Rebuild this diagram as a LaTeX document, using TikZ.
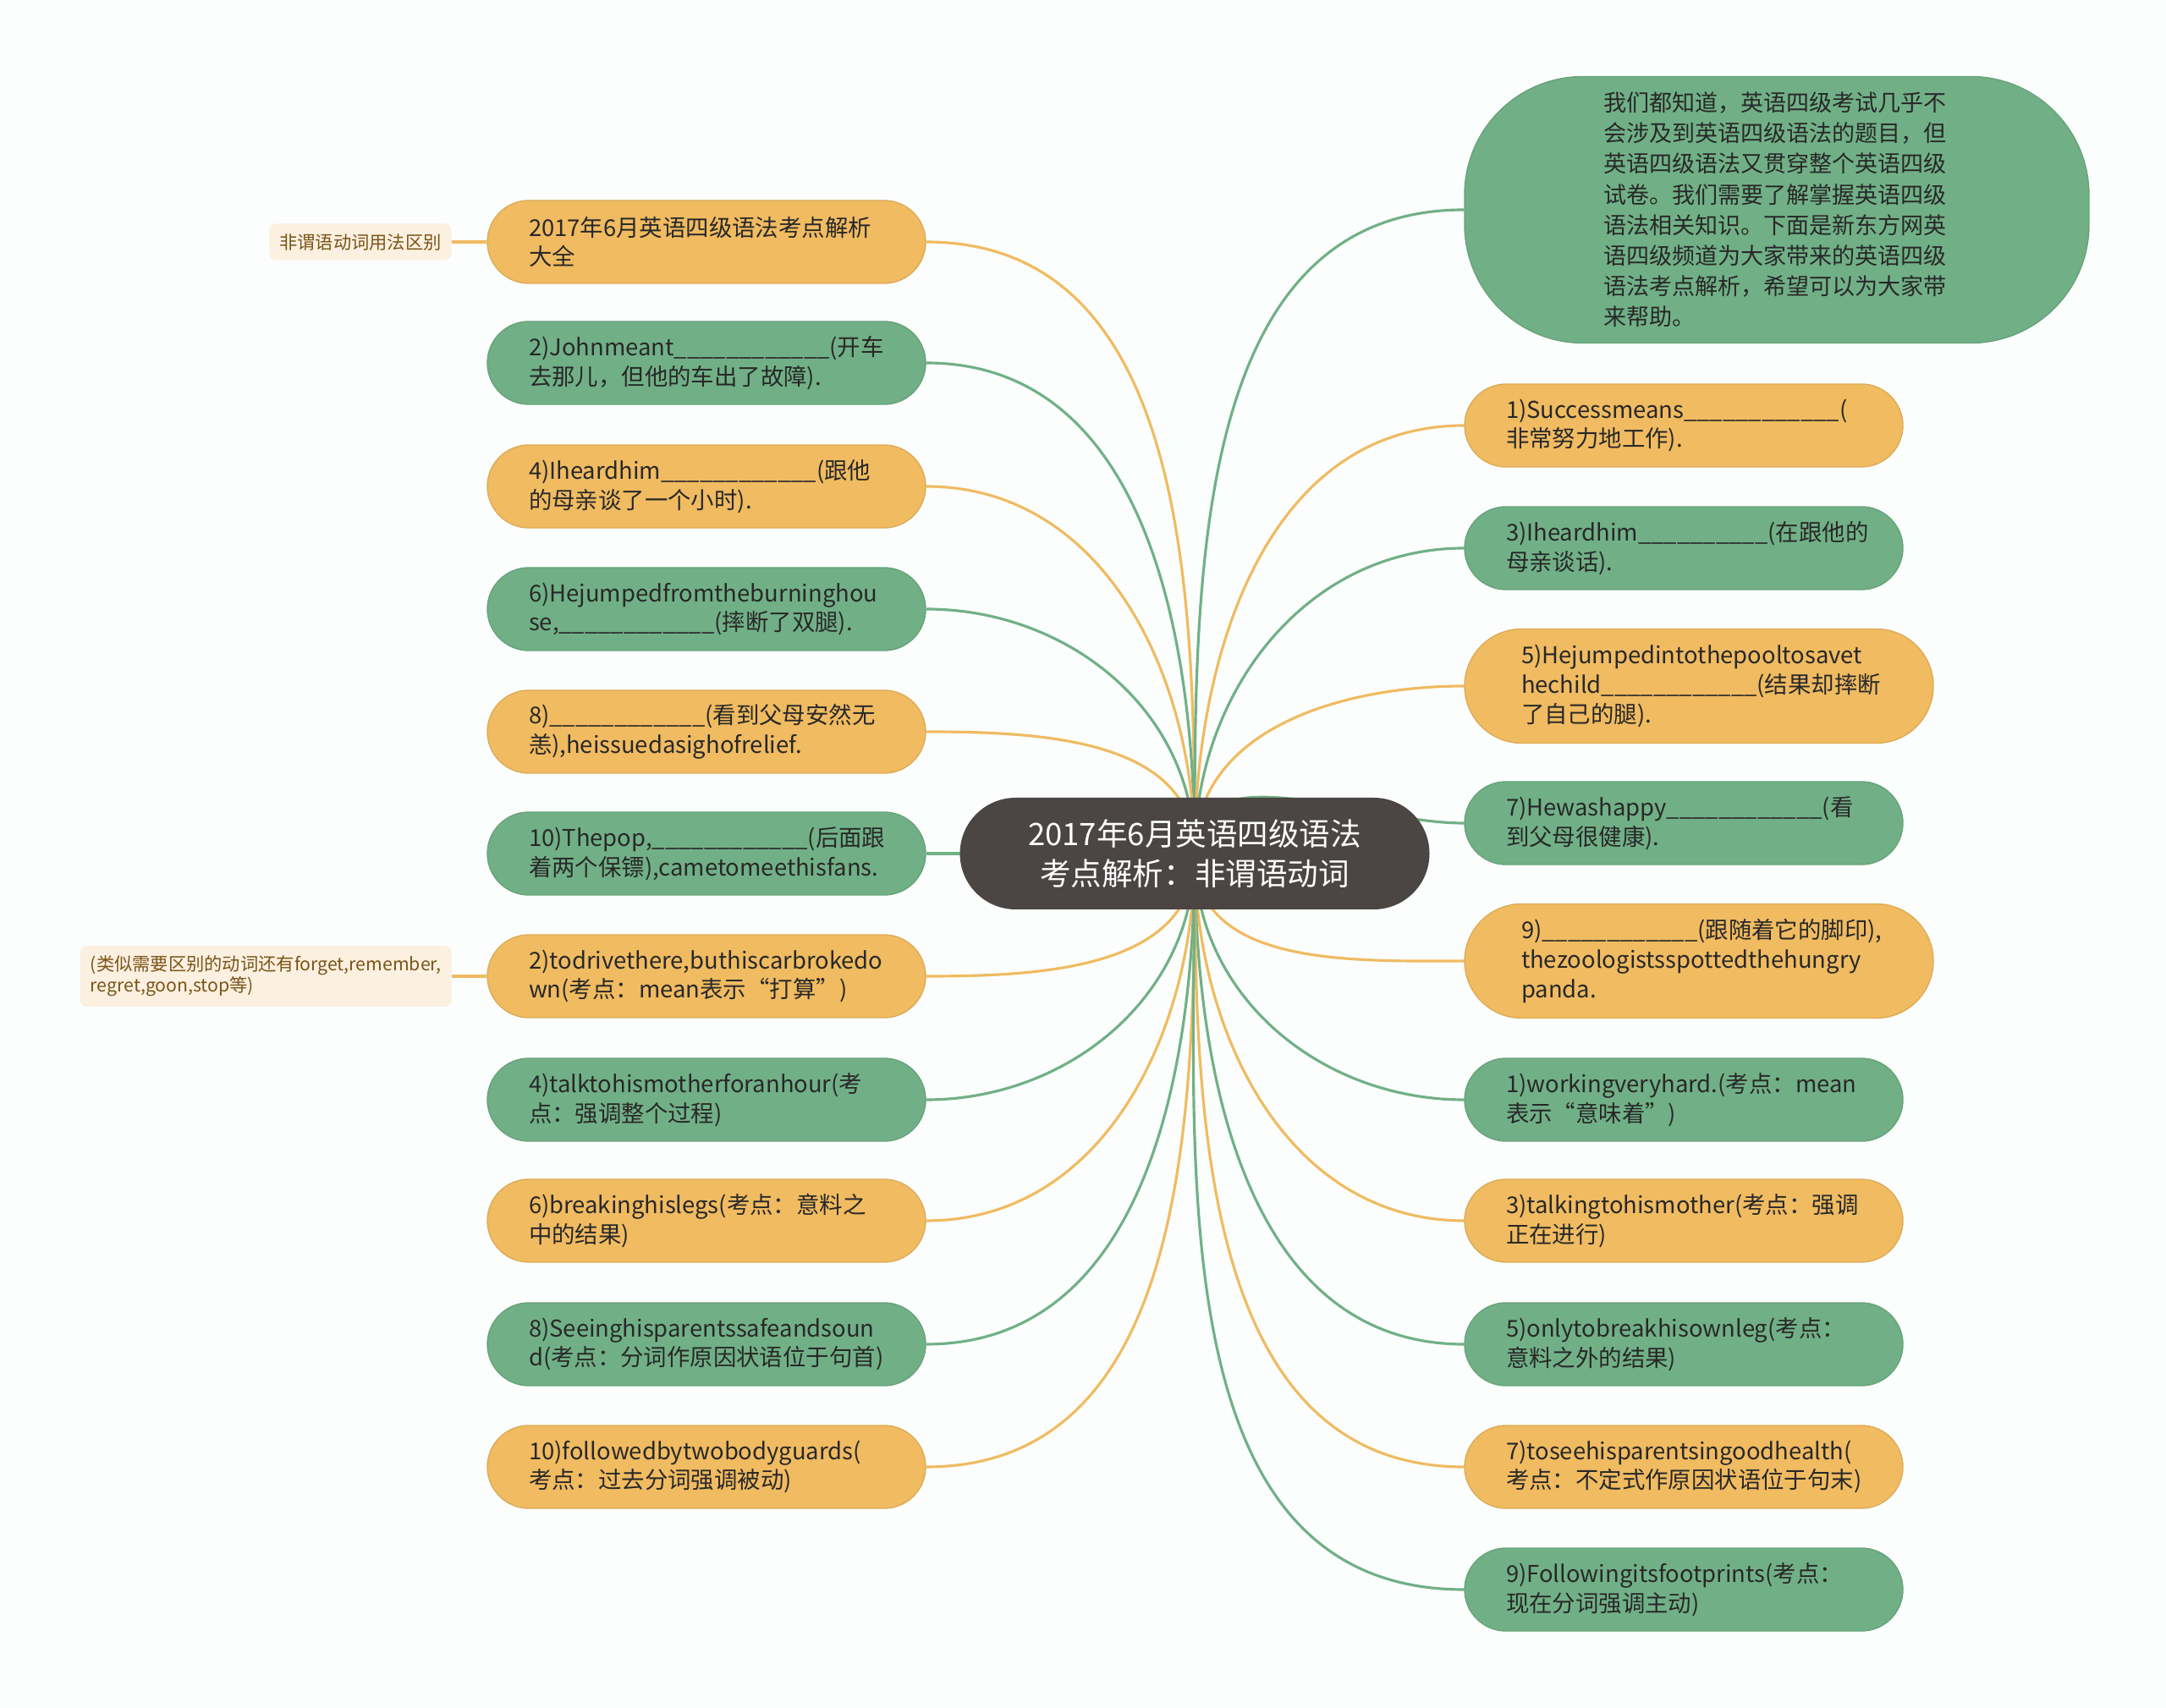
\documentclass[tikz,border=0pt]{standalone}
\usepackage{fontspec}
\setmainfont{Noto Sans CJK SC}
\usetikzlibrary{positioning}
\definecolor{bgcol}{RGB}{251,254,253}
\definecolor{orn}{RGB}{240,187,97}
\definecolor{grn}{RGB}{113,176,134}
\definecolor{hub}{RGB}{75,69,68}
\definecolor{notefill}{RGB}{252,240,224}
\definecolor{notetext}{RGB}{122,84,24}
\definecolor{txt}{RGB}{40,40,40}
\newcommand{\blank}{\_\_\_\_\_\_\_\_\_\_\_\_}
\newcommand{\shortblank}{\_\_\_\_\_\_\_\_\_\_}
\pgfdeclarelayer{links}
\pgfsetlayers{links,main}
\begin{document}
\begin{tikzpicture}[
    topicbox/.style={rectangle, rounded corners=0.49cm, minimum height=0.98cm, text width=4.2cm, inner xsep=0.49cm, align=left, text=txt, font=\fontsize{7.8}{9.9}\selectfont},
    orangebox/.style={topicbox, fill=orn, draw=orn!92!black, line width=0.4pt},
    greenbox/.style={topicbox, fill=grn, draw=grn!92!black, line width=0.4pt},
    widebox/.style={inner xsep=0.67cm, minimum height=1.35cm, rounded corners=0.675cm},
    centerbox/.style={rectangle, rounded corners=0.66cm, minimum width=5.55cm, minimum height=1.32cm, fill=hub, text=white, align=center, font=\fontsize{10.4}{13.5}\selectfont},
    notebox/.style={rectangle, rounded corners=0.08cm, fill=notefill, text=notetext, align=left, inner xsep=0.12cm, font=\fontsize{6.05}{7.2}\selectfont},
    olink/.style={draw=orn, line width=0.9pt},
    glink/.style={draw=grn, line width=0.9pt}]

    \node[centerbox] (c) at (14.12,-10.09) {2017年6月英语四级语法\\考点解析：非谓语动词};

    \node[orangebox] (l1) at (8.35,-2.86) {2017年6月英语四级语法考点解析\\大全};
    \node[greenbox] (l2) at (8.35,-4.29) {2)Johnmeant\blank(开车\\去那儿，但他的车出了故障).};
    \node[orangebox] (l3) at (8.35,-5.75) {4)Iheardhim\blank(跟他\\的母亲谈了一个小时).};
    \node[greenbox] (l4) at (8.35,-7.20) {6)Hejumpedfromtheburninghou\\se,\blank(摔断了双腿).};
    \node[orangebox] (l5) at (8.35,-8.65) {8)\blank(看到父母安然无\\恙),heissuedasighofrelief.};
    \node[greenbox] (l6) at (8.35,-10.09) {10)Thepop,\blank(后面跟\\着两个保镖),cametomeethisfans.};
    \node[orangebox] (l7) at (8.35,-11.54) {2)todrivethere,buthiscarbrokedo\\wn(考点：mean表示“打算”)};
    \node[greenbox] (l8) at (8.35,-13.00) {4)talktohismotherforanhour(考\\点：强调整个过程)};
    \node[orangebox] (l9) at (8.35,-14.43) {6)breakinghislegs(考点：意料之\\中的结果)};
    \node[greenbox] (l10) at (8.35,-15.89) {8)Seeinghisparentssafeandsoun\\d(考点：分词作原因状语位于句首)};
    \node[orangebox] (l11) at (8.35,-17.34) {10)followedbytwobodyguards(\\考点：过去分词强调被动)};

    \node[notebox, left=0.41cm of l1] (n1) {非谓语动词用法区别};
    \node[notebox, left=0.41cm of l7] (n2) {(类似需要区别的动词还有forget,remember,\\regret,goon,stop等)};

    \node[greenbox, text width=4.1cm, minimum width=7.38cm, minimum height=3.15cm, rounded corners=1.4cm, font=\fontsize{7.7}{10.3}\selectfont] (r0) at (21.00,-2.48) {我们都知道，英语四级考试几乎不\\会涉及到英语四级语法的题目，但\\英语四级语法又贯穿整个英语四级\\试卷。我们需要了解掌握英语四级\\语法相关知识。下面是新东方网英\\语四级频道为大家带来的英语四级\\语法考点解析，希望可以为大家带\\来帮助。};
    \node[orangebox] (r1) at (19.90,-5.03) {1)Successmeans\blank(\\非常努力地工作).};
    \node[greenbox] (r2) at (19.90,-6.48) {3)Iheardhim\shortblank(在跟他的\\母亲谈话).};
    \node[orangebox, widebox] (r3) at (20.08,-8.11) {5)Hejumpedintothepooltosavet\\hechild\blank(结果却摔断\\了自己的腿).};
    \node[greenbox] (r4) at (19.90,-9.73) {7)Hewashappy\blank(看\\到父母很健康).};
    \node[orangebox, widebox] (r5) at (20.08,-11.36) {9)\blank(跟随着它的脚印),\\thezoologistsspottedthehungry\\panda.};
    \node[greenbox] (r6) at (19.90,-13.00) {1)workingveryhard.(考点：mean\\表示“意味着”)};
    \node[orangebox] (r7) at (19.90,-14.43) {3)talkingtohismother(考点：强调\\正在进行)};
    \node[greenbox] (r8) at (19.90,-15.89) {5)onlytobreakhisownleg(考点：\\意料之外的结果)};
    \node[orangebox] (r9) at (19.90,-17.34) {7)toseehisparentsingoodhealth(\\考点：不定式作原因状语位于句末)};
    \node[greenbox] (r10) at (19.90,-18.79) {9)Followingitsfootprints(考点：\\现在分词强调主动)};

    \begin{pgfonlayer}{links}
        \fill[bgcol] (0,0) rectangle (25.6,-20.19);
        \draw[olink] (c.center) to[out=90,in=0] (l1.east);
        \draw[glink] (c.center) to[out=90,in=0] (l2.east);
        \draw[olink] (c.center) to[out=90,in=0] (l3.east);
        \draw[glink] (c.center) to[out=90,in=0] (l4.east);
        \draw[olink] (c.center) to[out=90,in=0] (l5.east);
        \draw[glink] (c.center) -- (l6.east);
        \draw[olink] (c.center) to[out=-90,in=0] (l7.east);
        \draw[glink] (c.center) to[out=-90,in=0] (l8.east);
        \draw[olink] (c.center) to[out=-90,in=0] (l9.east);
        \draw[glink] (c.center) to[out=-90,in=0] (l10.east);
        \draw[olink] (c.center) to[out=-90,in=0] (l11.east);
        \draw[olink] (l1.west) -- (n1.east);
        \draw[olink] (l7.west) -- (n2.east);
        \draw[glink] (c.center) to[out=90,in=180] (r0.west);
        \draw[olink] (c.center) to[out=90,in=180] (r1.west);
        \draw[glink] (c.center) to[out=90,in=180] (r2.west);
        \draw[olink] (c.center) to[out=90,in=180] (r3.west);
        \draw[glink] (c.center) to[out=90,in=180] (r4.west);
        \draw[olink] (c.center) to[out=-90,in=180] (r5.west);
        \draw[glink] (c.center) to[out=-90,in=180] (r6.west);
        \draw[olink] (c.center) to[out=-90,in=180] (r7.west);
        \draw[glink] (c.center) to[out=-90,in=180] (r8.west);
        \draw[olink] (c.center) to[out=-90,in=180] (r9.west);
        \draw[glink] (c.center) to[out=-90,in=180] (r10.west);
    \end{pgfonlayer}
    \useasboundingbox (0,0) rectangle (25.6,-20.19);
\end{tikzpicture}
\end{document}
